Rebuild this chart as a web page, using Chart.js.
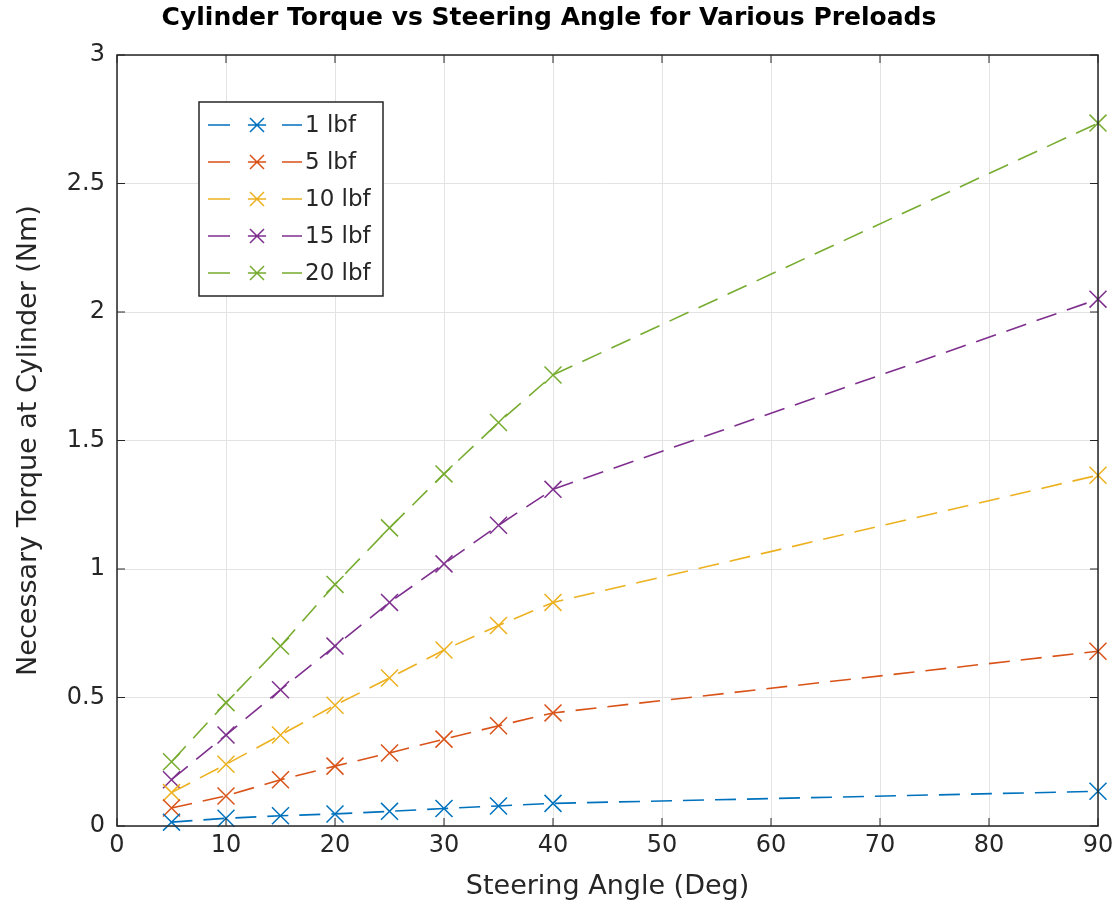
<!DOCTYPE html>
<html>
<head>
<meta charset="utf-8">
<script src="https://cdn.jsdelivr.net/npm/chart.js@4.4.0/dist/chart.umd.min.js"></script>
<style>
  html, body { margin: 0; padding: 0; background: #fff; }
  #wrap { width: 1120px; height: 923px; }
</style>
</head>
<body>
<div id="wrap"><canvas id="torque-chart" width="1120" height="923"></canvas></div>
<script>
// steering angle (deg)
var angles = [5, 10, 15, 20, 25, 30, 35, 40, 90];
// torque at cylinder (Nm) per preload
var lbf1  = [0.015, 0.03, 0.04, 0.047, 0.057, 0.068, 0.078, 0.088, 0.135];
var lbf5  = [0.07, 0.117, 0.18, 0.233, 0.284, 0.338, 0.39, 0.44, 0.68];
var lbf10 = [0.13, 0.24, 0.354, 0.47, 0.576, 0.685, 0.78, 0.87, 1.365];
var lbf15 = [0.18, 0.354, 0.53, 0.70, 0.87, 1.02, 1.17, 1.31, 2.05];
var lbf20 = [0.25, 0.48, 0.70, 0.94, 1.16, 1.37, 1.57, 1.755, 2.735];
var seriesLabels = ["1 lbf", "5 lbf", "10 lbf", "15 lbf", "20 lbf"];
var seriesColors = ["#0072BD", "#D95319", "#EDB120", "#7E2F8E", "#77AC30"];
var xTicks = [0, 10, 20, 30, 40, 50, 60, 70, 80, 90];
var yTicks = [0, 0.5, 1, 1.5, 2, 2.5, 3];

var font = "'DejaVu Sans', Arial, sans-serif";

function pairs(ys)
{
	return angles.map(function(a, i) { return { x: a, y: ys[i] }; });
}

var datasets = [lbf1, lbf5, lbf10, lbf15, lbf20].map(function(ys, i)
{
	return {
		label: seriesLabels[i],
		data: pairs(ys),
		borderColor: seriesColors[i],
		backgroundColor: seriesColors[i],
		borderWidth: 1.6,
		borderDash: [21, 11],
		pointStyle: 'crossRot',
		pointRadius: 12,
		pointBorderWidth: 1.5,
		pointHoverRadius: 12,
		fill: false,
		tension: 0,
		clip: false
	};
});

// box, inward ticks and legend drawn MATLAB-style
var matlabAxes = {
	id: 'matlabAxes',
	afterDatasetsDraw: function(chart)
	{
		var ctx = chart.ctx, a = chart.chartArea;
		var xs = chart.scales.x, ys = chart.scales.y;
		ctx.save();
		ctx.strokeStyle = '#262626';
		ctx.lineWidth = 1.5;
		ctx.strokeRect(a.left, a.top, a.right - a.left, a.bottom - a.top);
		ctx.lineWidth = 1;
		ctx.beginPath();
		xTicks.forEach(function(t)
		{
			var px = xs.getPixelForValue(t);
			ctx.moveTo(px, a.bottom); ctx.lineTo(px, a.bottom - 8);
			ctx.moveTo(px, a.top); ctx.lineTo(px, a.top + 8);
		});
		yTicks.forEach(function(t)
		{
			var py = ys.getPixelForValue(t);
			ctx.moveTo(a.left, py); ctx.lineTo(a.left + 8, py);
			ctx.moveTo(a.right, py); ctx.lineTo(a.right - 8, py);
		});
		ctx.stroke();

		// legend
		var lx = a.left + 82, ly = a.top + 47, lw = 184, lh = 194;
		ctx.fillStyle = '#fff';
		ctx.fillRect(lx, ly, lw, lh);
		ctx.strokeStyle = '#262626';
		ctx.lineWidth = 1.5;
		ctx.strokeRect(lx, ly, lw, lh);
		ctx.font = '23px ' + font;
		ctx.textBaseline = 'middle';
		chart.data.datasets.forEach(function(ds, i)
		{
			var cy = ly + 23 + i * 37;
			ctx.strokeStyle = ds.borderColor;
			ctx.lineWidth = 1.5;
			ctx.beginPath();
			ctx.moveTo(lx + 9, cy); ctx.lineTo(lx + 31, cy);
			ctx.moveTo(lx + 83, cy); ctx.lineTo(lx + 103, cy);
			var mx = lx + 58, r = 7;
			ctx.moveTo(mx - r, cy - r); ctx.lineTo(mx + r, cy + r);
			ctx.moveTo(mx - r, cy + r); ctx.lineTo(mx + r, cy - r);
			ctx.moveTo(mx - r * 1.3, cy); ctx.lineTo(mx + r * 1.3, cy);
			ctx.stroke();
			ctx.fillStyle = '#262626';
			ctx.fillText(ds.label, lx + 106, cy + 1);
		});
		ctx.restore();
	}
};

new Chart(document.getElementById("torque-chart"),
{
	type: 'line',
	data: { datasets: datasets },
	options:
	{
		responsive: false,
		animation: false,
		layout: { padding: { left: 0, right: 22, top: 0, bottom: 0 } },
		plugins:
		{
			title:
			{
				display: true,
				text: 'Cylinder Torque vs Steering Angle for Various Preloads',
				color: '#000',
				font: { family: font, size: 25, weight: 'bold' },
				padding: { top: 3, bottom: 22 }
			},
			legend: { display: false },
			tooltip: { enabled: false }
		},
		scales:
		{
			x:
			{
				type: 'linear',
				min: 0,
				max: 90,
				afterBuildTicks: function(s) { s.ticks = xTicks.map(function(v) { return { value: v }; }); },
				afterFit: function(s) { s.height = 97; },
				grid: { color: '#e3e3e3', drawTicks: false },
				border: { display: false },
				ticks: { color: '#262626', padding: 5, font: { family: font, size: 24 } },
				title:
				{
					display: true,
					text: 'Steering Angle (Deg)',
					color: '#262626',
					font: { family: font, size: 27 },
					padding: { top: 0, bottom: 20 }
				}
			},
			y:
			{
				min: 0,
				max: 3,
				afterBuildTicks: function(s) { s.ticks = yTicks.map(function(v) { return { value: v }; }); },
				afterFit: function(s) { s.width = 117; },
				grid: { color: '#e3e3e3', drawTicks: false },
				border: { display: false },
				ticks:
				{
					color: '#262626',
					padding: 12,
					font: { family: font, size: 24 },
					callback: function(v) { return String(v); }
				},
				title:
				{
					display: true,
					text: 'Necessary Torque at Cylinder (Nm)',
					color: '#262626',
					font: { family: font, size: 27 },
					padding: { top: 13, bottom: 0 }
				}
			}
		}
	},
	plugins: [matlabAxes]
});
</script>
</body>
</html>
